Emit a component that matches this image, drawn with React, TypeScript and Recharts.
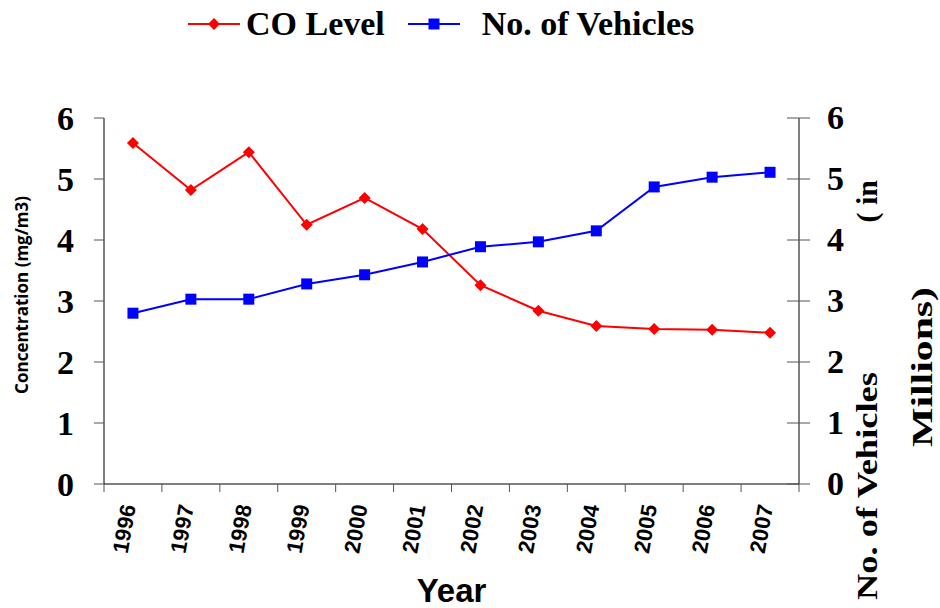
import { LineChart, Line, XAxis, YAxis, Legend } from 'recharts';

const YEARS = ['1996', '1997', '1998', '1999', '2000', '2001', '2002', '2003', '2004', '2005', '2006', '2007'];
const CO_LEVEL = [5.59, 4.82, 5.44, 4.25, 4.69, 4.18, 3.26, 2.84, 2.59, 2.54, 2.53, 2.48];
const VEHICLES = [2.8, 3.03, 3.03, 3.28, 3.43, 3.64, 3.89, 3.97, 4.15, 4.87, 5.03, 5.11];
const Y_TICKS = [0, 1, 2, 3, 4, 5, 6];

const data = YEARS.map((year, i) => ({ year, co: CO_LEVEL[i], vehicles: VEHICLES[i] }));

const W = 940;
const H = 608;
const LEFT_W = 104;
const RIGHT_W = 141;
const TOP = 118;
const X_AXIS_H = 124;
const BAND = (W - LEFT_W - RIGHT_W) / YEARS.length;

const SERIF = 'Liberation Serif, Times New Roman, serif';
const SANS = 'Liberation Sans, Arial, sans-serif';

const Diamond = (props: any) => {
  const { cx, cy, index } = props;
  if (cx == null || cy == null) return null;
  const r = 6;
  return (
    <polygon
      key={`d-${index}`}
      points={`${cx},${cy - r} ${cx + r},${cy} ${cx},${cy + r} ${cx - r},${cy}`}
      fill="#ff0000"
    />
  );
};

const Square = (props: any) => {
  const { cx, cy, index } = props;
  if (cx == null || cy == null) return null;
  return <rect key={`s-${index}`} x={cx - 5.5} y={cy - 5.5} width={11} height={11} fill="#0000ff" />;
};

const YearTick = (props: any) => {
  const { x, y, payload, index } = props;
  const last = index === YEARS.length - 1;
  const ax = x + 3;
  const ay = y + 14;
  return (
    <g>
      <line x1={x - BAND / 2} y1={y - 8} x2={x - BAND / 2} y2={y} stroke="#555" />
      {last && <line x1={x + BAND / 2} y1={y - 8} x2={x + BAND / 2} y2={y} stroke="#555" />}
      <text
        x={ax}
        y={ay}
        transform={`rotate(-80, ${ax}, ${ay})`}
        textAnchor="end"
        fontFamily={SANS}
        fontWeight="bold"
        fontSize={22}
        fill="#000"
      >
        {payload.value}
      </text>
    </g>
  );
};

const RightTick = (props: any) => {
  const { x, y, payload } = props;
  return (
    <g>
      <line x1={x - 37} y1={y} x2={x - 14} y2={y} stroke="#555" />
      <text x={x + 3} y={y} dy="0.33em" textAnchor="start" fontFamily={SERIF} fontWeight="bold" fontSize={34} fill="#000">
        {payload.value}
      </text>
    </g>
  );
};

const LeftLabel = (props: any) => {
  const { x, y, height } = props.viewBox;
  const lx = x + 28;
  const ly = y + height / 2 - 6;
  return (
    <text
      x={lx}
      y={ly}
      transform={`rotate(-90, ${lx}, ${ly})`}
      textAnchor="middle"
      fontFamily="Open Sans, sans-serif"
      fontWeight={700}
      fontSize={17}
      fill="#000"
    >
      Concentration (mg/m3)
    </text>
  );
};

const RightLabel = (props: any) => {
  const { x, y, height } = props.viewBox;
  const x1 = x + 78;
  const x2 = x + 133;
  const yStart = y + height + 116;
  const yIn = y + 62;
  const yMid = y + 249;
  const style = { fontFamily: SERIF, fontWeight: 'bold' as const, fontSize: 30, fill: '#000' };
  return (
    <g>
      <text
        x={x1}
        y={yStart}
        transform={`rotate(-90, ${x1}, ${yStart})`}
        textAnchor="start"
        textLength={228}
        lengthAdjust="spacingAndGlyphs"
        {...style}
      >
        No. of Vehicles
      </text>
      <text x={x1} y={yIn} transform={`rotate(-90, ${x1}, ${yIn})`} textAnchor="end" {...style}>
        ( in
      </text>
      <text
        x={x2}
        y={yMid}
        transform={`rotate(-90, ${x2}, ${yMid})`}
        textAnchor="middle"
        textLength={160}
        lengthAdjust="spacingAndGlyphs"
        {...style}
      >
        Millions)
      </text>
    </g>
  );
};

const LegendContent = () => {
  const item = { display: 'flex', alignItems: 'center' } as const;
  return (
    <div
      style={{
        display: 'flex',
        alignItems: 'center',
        whiteSpace: 'nowrap',
        fontFamily: SERIF,
        fontWeight: 'bold',
        fontSize: 34,
        color: '#000',
      }}
    >
      <div style={item}>
        <svg width={52} height={14}>
          <line x1={0} y1={7} x2={52} y2={7} stroke="#ff0000" strokeWidth={2} />
          <polygon points="26,1 32,7 26,13 20,7" fill="#ff0000" />
        </svg>
        <span style={{ marginLeft: 6 }}>CO Level</span>
      </div>
      <div style={{ ...item, marginLeft: 23 }}>
        <svg width={52} height={14}>
          <line x1={0} y1={7} x2={52} y2={7} stroke="#0000ff" strokeWidth={2} />
          <rect x={20.5} y={1.5} width={11} height={11} fill="#0000ff" />
        </svg>
        <span style={{ marginLeft: 22 }}>No. of Vehicles</span>
      </div>
    </div>
  );
};

export default function App() {
  return (
    <div style={{ position: 'absolute', left: 0, top: 0, width: W, height: H, background: '#fff' }}>
      <LineChart width={W} height={H} data={data} margin={{ top: TOP, right: 0, bottom: 0, left: 0 }}>
        <XAxis
          dataKey="year"
          scale="band"
          height={X_AXIS_H}
          axisLine={{ stroke: '#000' }}
          tickLine={false}
          tickSize={8}
          tickMargin={0}
          interval={0}
          tick={<YearTick />}
          label={{
            value: 'Year',
            position: 'insideBottom',
            offset: 6,
            style: { fontFamily: SANS, fontWeight: 'bold', fontSize: 33, fill: '#000' },
          }}
        />
        <YAxis
          yAxisId="left"
          width={LEFT_W}
          domain={[0, 6]}
          ticks={Y_TICKS}
          interval={0}
          axisLine={{ stroke: '#000' }}
          tickLine={{ stroke: '#555' }}
          tickSize={10}
          tickMargin={20}
          tick={{ fill: '#000', fontSize: 34, fontWeight: 'bold', fontFamily: SERIF }}
          label={<LeftLabel />}
        />
        <YAxis
          yAxisId="right"
          orientation="right"
          width={RIGHT_W}
          domain={[0, 6]}
          ticks={Y_TICKS}
          interval={0}
          axisLine={{ stroke: '#000' }}
          tickLine={false}
          tickSize={11}
          tickMargin={14}
          tick={<RightTick />}
          label={<RightLabel />}
        />
        <Legend
          layout="horizontal"
          verticalAlign="middle"
          align="center"
          wrapperStyle={{ top: 5, left: 188, width: 'auto' }}
          content={<LegendContent />}
        />
        <Line
          yAxisId="left"
          dataKey="co"
          name="CO Level"
          stroke="#ff0000"
          strokeWidth={2}
          dot={<Diamond />}
          isAnimationActive={false}
        />
        <Line
          yAxisId="right"
          dataKey="vehicles"
          name="No. of Vehicles"
          stroke="#0000ff"
          strokeWidth={2}
          dot={<Square />}
          isAnimationActive={false}
        />
      </LineChart>
    </div>
  );
}
